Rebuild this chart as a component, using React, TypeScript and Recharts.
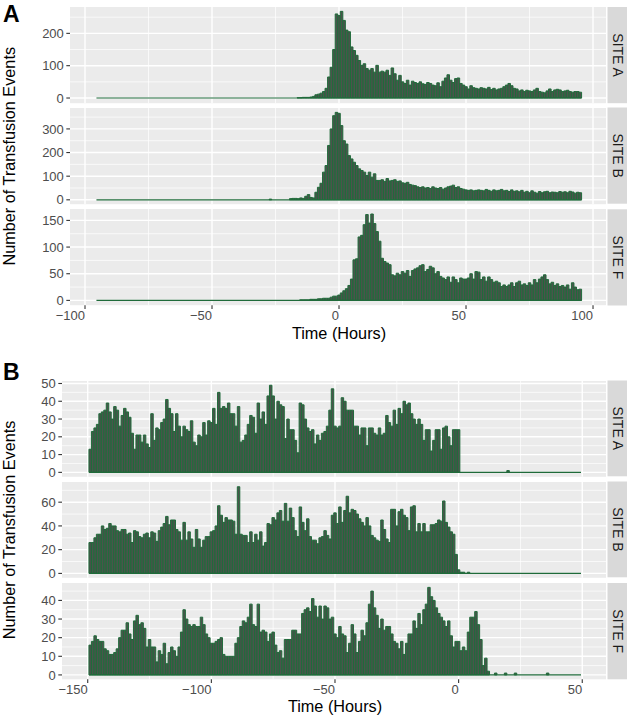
import React from 'react';
import { BarChart, Bar, XAxis, YAxis, CartesianGrid, ReferenceLine } from 'recharts';

// ---------------- DATA (hourly counts of transfusion events) ----------------
// Panel A: hours -95..95 ; bins not listed are 0
const aSiteAStart = -20;
const aSiteACounts = [
  0, 0, 0, 0, 1, 1, 2, 2, 2, 3, 5,
  10, 12, 15, 20, 30, 65, 95, 150, 260,
  255, 268, 240, 210, 205, 158, 147, 132, 116, 101, 106,
  91, 86, 91, 80, 101, 80, 83, 80, 86, 70, 93, 75, 55, 70, 50,
  45, 55, 40, 52, 48, 45, 50, 44, 42, 48,
  45, 40, 38, 47, 35, 52, 62, 72, 55, 48, 60, 62, 45, 40, 35,
  28, 38, 32, 30, 28, 32, 30, 28, 33, 26,
  30, 25, 28, 30, 35, 40, 45, 38, 30, 28,
  22, 25, 20, 24, 22, 20, 25, 30, 20, 18,
  16, 22, 28, 20, 25, 27, 25, 20, 22, 24, 20, 18, 20, 20, 18,
];

const aSiteBStart = -27;
const aSiteBCounts = [
  3, 0, 0, 0, 0, 0, 0, 0,
  5, 6, 6, 5, 8, 6, 15, 22, 10, 8, 32, 53, 70, 117, 145, 230, 300, 356, 370,
  366, 314, 250, 236, 187, 173, 159, 145, 131, 124, 117, 103, 117, 96, 110, 82, 82,
  85, 78, 90, 80, 82, 85, 78, 80, 72, 70, 74, 65, 62, 60,
  55, 52, 55, 50, 52, 48, 55, 50, 48, 52, 45, 50, 55, 58, 62,
  52, 55, 48, 45, 42, 40, 42, 38, 40, 42, 40, 38, 44, 40, 36,
  42, 38, 40, 44, 38, 40, 35, 42, 36, 38, 34, 40, 32, 36, 30,
  38, 32, 28, 35, 30, 34, 36, 30, 33, 32, 30, 35, 32, 34, 30, 36, 33, 28, 32, 30,
];

const aSiteFStart = -15;
const aSiteFCounts = [
  1, 1, 1, 1, 2, 2, 2, 3, 3, 4, 4, 4, 6, 8, 8,
  10, 14, 18, 22, 28, 40,
  76, 78, 119, 122, 142, 161, 145, 162, 144, 129, 111, 79, 73, 70, 67,
  48, 46, 51, 48, 54, 51, 56, 45, 56, 59, 61, 65, 67, 54, 58, 64, 61, 50, 54, 45,
  42, 39, 44, 34, 44, 39, 33, 42, 40, 40, 42, 50, 40, 54, 53, 39, 44, 36, 44, 39,
  34, 36, 33, 26, 29, 26, 29, 33, 26, 33, 36, 29, 31, 28, 33, 29, 39, 33, 40, 44,
  48, 39, 31, 34, 28, 31, 26, 28, 25, 29, 21, 33, 25, 20, 21,
];

// Panel B: hours -149..49 ; bins not listed are 0
const bSiteAStart = -149;
const bSiteACounts = [
  13, 23, 25, 27, 33, 34, 35, 39, 34, 30, 37, 35, 26, 32, 36, 34, 31, 22, 13, 21,
  21, 17, 21, 16, 14, 33, 18, 25, 24, 28, 30, 41, 36, 33, 23, 33, 26, 20, 26, 24,
  23, 29, 17, 15, 21, 20, 28, 21, 29, 28, 36, 27, 45, 36, 37, 36, 39, 33, 33, 26,
  37, 17, 18, 21, 27, 32, 31, 22, 39, 30, 34, 27, 43, 49, 43, 30, 40, 38, 37, 19,
  30, 24, 24, 18, 11,
  39, 38, 30, 25, 23, 24, 16, 21, 18, 22, 23, 26, 35, 47, 26, 25, 26, 42, 40, 35,
  35, 35, 26, 26, 21, 25, 25, 15, 25, 25, 22, 21, 25, 21, 22, 32, 28, 26, 35, 27,
  36, 33, 40, 38, 39, 33, 30, 27, 30, 27, 18, 24, 24, 12, 18, 24, 24, 13, 25, 26,
  20, 15, 24, 24, 24,
  0, 0, 0, 0, 0, 0, 0, 0, 0, 0, 0, 0, 0, 0, 0, 0, 0, 0, 0, 1,
];

const bSiteBStart = -149;
const bSiteBCounts = [
  26, 26, 30, 33, 33, 40, 37, 38, 42, 40, 40, 36, 35, 37, 37, 33, 34, 26, 36, 35,
  31, 30, 33, 34, 30, 35, 34, 27, 36, 39, 42, 48, 41, 45, 45, 37, 35, 28, 43, 28,
  35, 29, 22, 37, 29, 22, 28, 31, 31, 35, 36, 40, 57, 49, 43, 47, 45, 45, 44, 33,
  73, 33, 32, 32, 26, 35, 26, 33, 28, 35, 23, 26, 42, 41, 47, 45, 51, 53, 44, 59,
  44, 55, 47, 36, 31,
  56, 43, 36, 46, 31, 28, 28, 25, 30, 31, 36, 32, 29, 49, 51, 42, 56, 43, 53, 65,
  51, 54, 53, 50, 46, 43, 40, 47, 40, 32, 30, 28, 27, 45, 37, 29, 26, 54, 54, 40,
  52, 54, 49, 47, 36, 56, 57, 35, 42, 35, 42, 35, 35, 41, 41, 42, 45, 44, 61, 43,
  39, 35, 33, 16, 3,
  1, 1, 0, 1,
];

const bSiteFStart = -149;
const bSiteFCounts = [
  16, 18, 21, 19, 18, 18, 14, 13, 11, 11, 12, 14, 20, 24, 24, 28, 22, 19, 29, 32,
  27, 28, 25, 15, 19, 15, 15, 7, 13, 11, 17, 6, 12, 15, 13, 10, 15, 23, 35, 30,
  27, 26, 27, 26, 26, 31, 27, 22, 20, 17, 17, 18, 19, 20, 11, 10, 10, 10, 10, 17,
  20, 26, 29, 28, 31, 38, 27, 26, 38, 23, 24, 23, 18, 22, 23, 16, 12, 13, 9, 19,
  19, 19, 24, 24, 22, 22,
  33, 35, 36, 34, 41, 37, 31, 37, 30, 37, 36, 30, 31, 22, 20, 26, 22, 21, 12, 17,
  27, 22, 12, 18, 24, 21, 28, 38, 45, 36, 32, 25, 30, 24, 26, 26, 22, 18, 17, 14,
  18, 11, 17, 22, 22, 29, 25, 33, 27, 35, 38, 47, 42, 40, 36, 33, 31, 29, 26, 29,
  21, 15, 18, 18, 13, 15, 13, 23, 31, 31, 34, 27, 19, 5, 9, 2,
  0, 0, 1, 0, 0, 0, 1, 0, 0, 0, 1, 0, 0, 0, 0, 0, 0, 0, 0, 0, 0, 0, 0, 1,
];

const aBinRange: [number, number] = [-95, 95];
const bBinRange: [number, number] = [-149, 49];

const aXTicks = [-100, -50, 0, 50, 100];
const bXTicks = [-150, -100, -50, 0, 50];
const a1YTicks = [0, 100, 200];
const a2YTicks = [0, 100, 200, 300];
const a3YTicks = [0, 50, 100, 150];
const b1YTicks = [0, 10, 20, 30, 40, 50];
const b2YTicks = [0, 20, 40, 60];
const b3YTicks = [0, 10, 20, 30, 40];

const siteLabels = ['SITE A', 'SITE B', 'SITE F'];
const yTitle = 'Number of Transfusion Events';
const xTitle = 'Time (Hours)';

// ---------------- STYLE / LAYOUT ----------------
const W = 630;
const H = 716;
const PAD = 10;
const FONT = '"Liberation Sans", Arial, Helvetica, sans-serif';
const PANEL_BG = '#EBEBEB';
const STRIP_BG = '#D9D9D9';
const BAR_FILL = '#4B534C';
const BAR_STROKE = '#1F6B3A';
const TICK_TXT = '#4D4D4D';

type Row = { hour: number; count: number };
const toRows = (start: number, counts: number[]): Row[] =>
  counts.map((count, i) => ({ hour: start + i, count }));

type FacetSpec = {
  rows: Row[];
  strip: string;
  top: number;
  height: number;
  yDomain: [number, number];
  yTicks: number[];
};
type PanelSpec = {
  x0: number;
  width: number;
  xDomain: [number, number];
  xTicks: number[];
  bins: [number, number];
  facets: FacetSpec[];
  letter: string;
  letterY: number;
  titleY: number;
};

const panels: PanelSpec[] = [
  {
    x0: 70,
    width: 536,
    xDomain: [-105.9, 105.1],
    xTicks: aXTicks,
    bins: aBinRange,
    letter: 'A',
    letterY: 22,
    titleY: 338.5,
    facets: [
      { rows: toRows(aSiteAStart, aSiteACounts), strip: siteLabels[0], top: 7, height: 96.2, yDomain: [-16, 281.5], yTicks: a1YTicks },
      { rows: toRows(aSiteBStart, aSiteBCounts), strip: siteLabels[1], top: 107.5, height: 96.2, yDomain: [-18.5, 388.5], yTicks: a2YTicks },
      { rows: toRows(aSiteFStart, aSiteFCounts), strip: siteLabels[2], top: 209.3, height: 96.2, yDomain: [-9, 171.4], yTicks: a3YTicks },
    ],
  },
  {
    x0: 62,
    width: 544,
    xDomain: [-160.4, 59.6],
    xTicks: bXTicks,
    bins: bBinRange,
    letter: 'B',
    letterY: 380,
    titleY: 711.5,
    facets: [
      { rows: toRows(bSiteAStart, bSiteACounts), strip: siteLabels[0], top: 380.5, height: 95.8, yDomain: [-2.5, 51.4], yTicks: b1YTicks },
      { rows: toRows(bSiteBStart, bSiteBCounts), strip: siteLabels[1], top: 481.5, height: 95.8, yDomain: [-3.7, 77], yTicks: b2YTicks },
      { rows: toRows(bSiteFStart, bSiteFCounts), strip: siteLabels[2], top: 583, height: 96.3, yDomain: [-2.35, 49.35], yTicks: b3YTicks },
    ],
  },
];

const minorBetween = (ticks: number[], domain: [number, number]) => {
  const step = ticks[1] - ticks[0];
  const out: number[] = [];
  for (let v = ticks[0] - step / 2; v <= domain[1]; v += step) {
    if (v >= domain[0]) out.push(v);
  }
  return out;
};

const fmtTick = (v: number) => (v < 0 ? '\u2212' + Math.abs(v) : String(v));

const XTick = (props: any) => {
  const { x, y, payload } = props;
  return (
    <text x={x} y={y} dy={9} textAnchor="end" fill={TICK_TXT} fontSize={13} fontFamily={FONT}>
      {fmtTick(payload.value)}
    </text>
  );
};

function Facet({ panel, facet, showX }: { panel: PanelSpec; facet: FacetSpec; showX: boolean }) {
  const { x0, width, xDomain, xTicks, bins } = panel;
  const { top, height, yDomain, yTicks, rows } = facet;
  const axisH = showX ? 22 : 0;
  const sx = (v: number) => x0 + ((v - xDomain[0]) / (xDomain[1] - xDomain[0])) * width;
  const sy = (v: number) => PAD + ((yDomain[1] - v) / (yDomain[1] - yDomain[0])) * height;
  const pxPerHour = width / (xDomain[1] - xDomain[0]);
  const minorX = minorBetween(xTicks, xDomain);
  const minorY = minorBetween(yTicks, yDomain);
  return (
    <div style={{ position: 'absolute', left: 0, top: top - PAD }}>
      <BarChart
        width={W}
        height={height + axisH + 2 * PAD}
        data={rows}
        margin={{ top: PAD, right: W - x0 - width, bottom: PAD, left: 0 }}
      >
        <CartesianGrid
          fill={PANEL_BG}
          stroke="#FFFFFF"
          strokeWidth={0.7}
          horizontalPoints={minorY.map(sy)}
          verticalPoints={minorX.map(sx)}
        />
        <CartesianGrid
          stroke="#FFFFFF"
          strokeWidth={1.4}
          horizontalPoints={yTicks.map(sy)}
          verticalPoints={xTicks.map(sx)}
        />
        <XAxis
          type="number"
          dataKey="hour"
          domain={xDomain}
          allowDataOverflow
          ticks={xTicks}
          interval={0}
          hide={!showX}
          height={axisH}
          axisLine={false}
          tickSize={3.7}
          tickLine={{ stroke: '#333333', strokeWidth: 1.1 }}
          tick={XTick}
        />
        <YAxis
          type="number"
          domain={yDomain}
          allowDataOverflow
          ticks={yTicks}
          interval={0}
          width={x0}
          axisLine={false}
          tickSize={3.7}
          tickMargin={2.5}
          tickLine={{ stroke: '#333333', strokeWidth: 1.1 }}
          tick={{ fill: TICK_TXT, fontSize: 13, fontFamily: FONT }}
        />
        <Bar
          dataKey="count"
          fill={BAR_FILL}
          stroke={BAR_STROKE}
          strokeWidth={1}
          barSize={pxPerHour * 0.999}
          isAnimationActive={false}
        />
        <ReferenceLine
          segment={[
            { x: bins[0] - 0.5, y: 0 },
            { x: bins[1] + 0.5, y: 0 },
          ]}
          stroke={BAR_STROKE}
          strokeWidth={1.2}
        />
      </BarChart>
    </div>
  );
}

export default function App() {
  return (
    <div
      style={{
        position: 'absolute',
        left: 0,
        top: 0,
        width: W,
        height: H,
        background: '#FFFFFF',
        fontFamily: FONT,
        overflow: 'hidden',
      }}
    >
      {panels.map((p, pi) =>
        p.facets.map((f, fi) => (
          <Facet key={`${pi}-${fi}`} panel={p} facet={f} showX={fi === p.facets.length - 1} />
        ))
      )}
      <svg
        width={W}
        height={H}
        style={{ position: 'absolute', left: 0, top: 0, pointerEvents: 'none' }}
        fontFamily={FONT}
      >
        {panels.map((p, pi) => {
          const first = p.facets[0];
          const last = p.facets[p.facets.length - 1];
          const yMid = (first.top + last.top + last.height) / 2;
          return (
            <g key={pi}>
              <text x={3} y={p.letterY} fontSize={23} fontWeight="bold" fill="#000">
                {p.letter}
              </text>
              <text
                transform={`translate(15, ${yMid}) rotate(-90)`}
                textAnchor="middle"
                fontSize={16.25}
                fill="#000"
              >
                {yTitle}
              </text>
              <text x={p.x0 + p.width / 2 + 1} y={p.titleY} textAnchor="middle" fontSize={16.25} fill="#000">
                {xTitle}
              </text>
              {p.facets.map((f, fi) => (
                <g key={fi}>
                  <rect x={607.5} y={f.top} width={19.5} height={f.height} fill={STRIP_BG} />
                  <text
                    transform={`translate(617.5, ${f.top + f.height / 2}) rotate(90)`}
                    textAnchor="middle"
                    dominantBaseline="central"
                    fontSize={14}
                    fill="#1A1A1A"
                  >
                    {f.strip}
                  </text>
                </g>
              ))}
            </g>
          );
        })}
      </svg>
    </div>
  );
}
